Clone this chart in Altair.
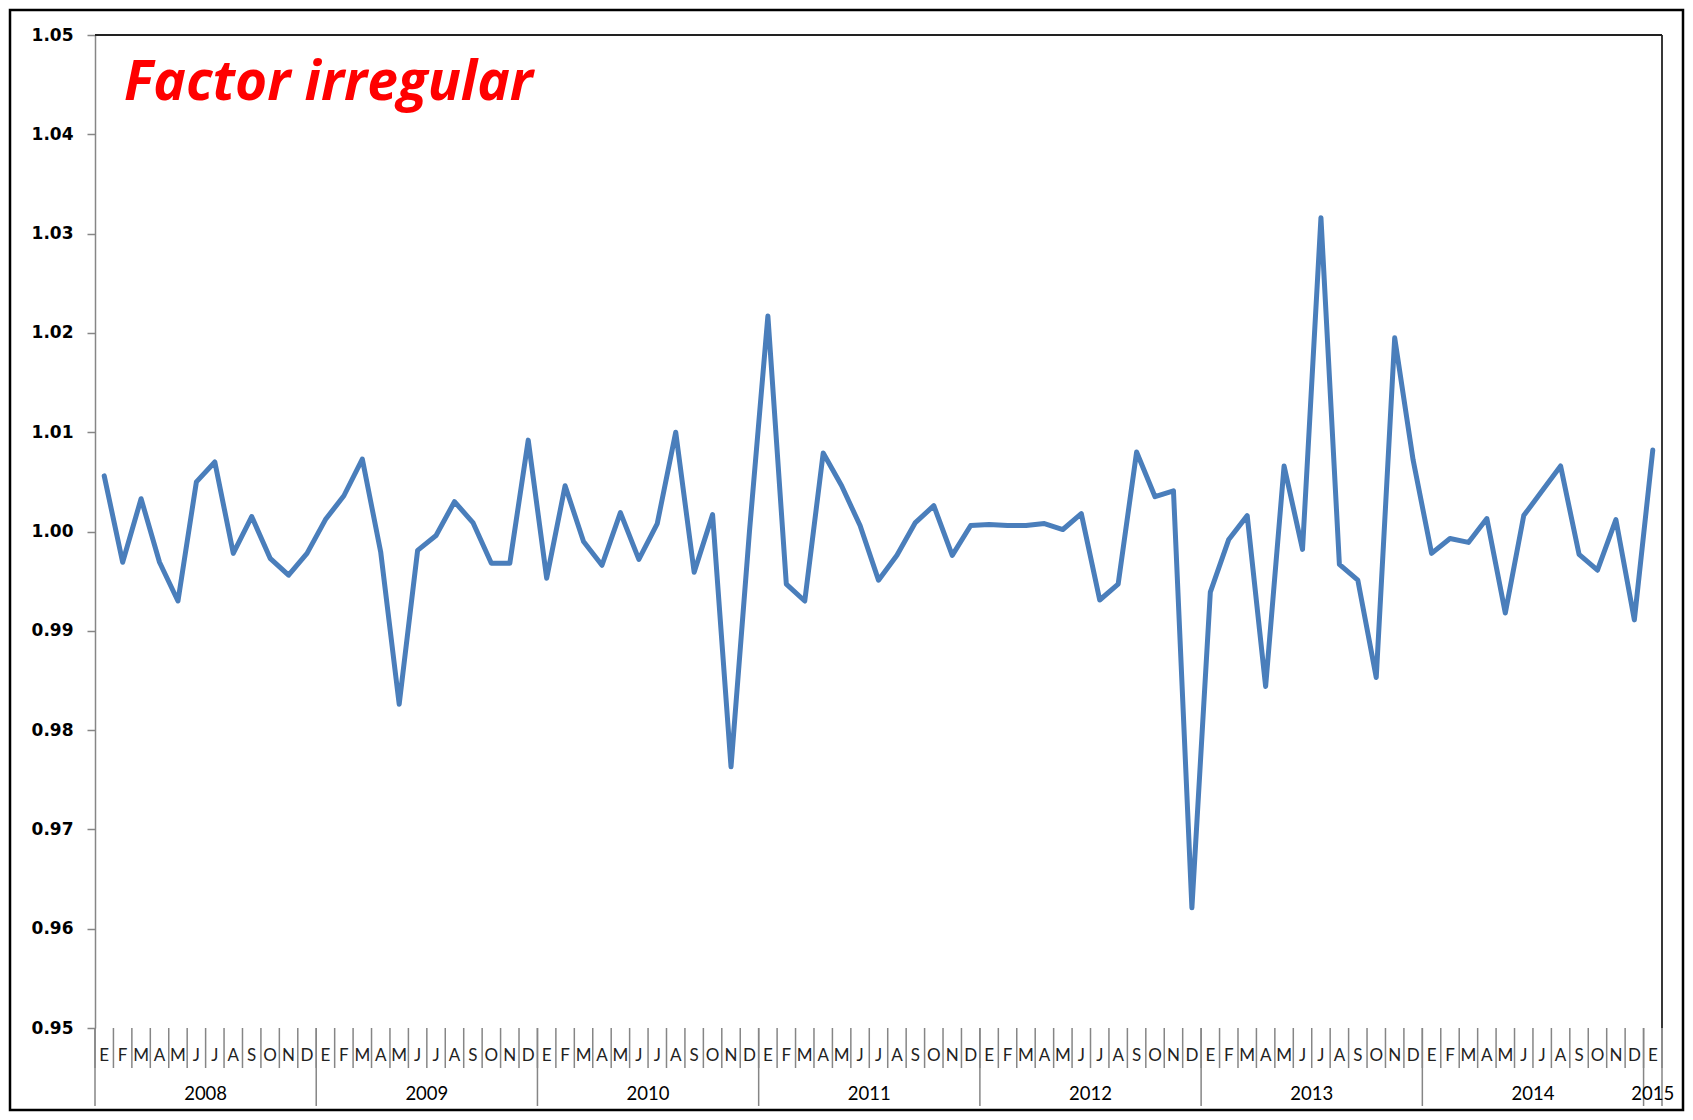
import altair as alt
import pandas as pd

# ---- data ----
month_letters = ["E", "F", "M", "A", "M", "J", "J", "A", "S", "O", "N", "D"]
years = [2008, 2009, 2010, 2011, 2012, 2013, 2014, 2015]
values_2008 = [1.0056, 0.9969, 1.0033, 0.9969, 0.9930, 1.0050, 1.0070, 0.9978, 1.0015, 0.9973, 0.9956, 0.9978]
values_2009 = [1.0012, 1.0036, 1.0073, 0.9979, 0.9826, 0.9981, 0.9996, 1.0030, 1.0009, 0.9968, 0.9968, 1.0092]
values_2010 = [0.9953, 1.0046, 0.9990, 0.9966, 1.0019, 0.9972, 1.0008, 1.0100, 0.9959, 1.0017, 0.9763, 1.0000]
values_2011 = [1.0217, 0.9947, 0.9930, 1.0079, 1.0046, 1.0006, 0.9951, 0.9976, 1.0009, 1.0026, 0.9976, 1.0006]
values_2012 = [1.0007, 1.0006, 1.0006, 1.0008, 1.0002, 1.0018, 0.9931, 0.9947, 1.0080, 1.0035, 1.0041, 0.9621]
values_2013 = [0.9939, 0.9992, 1.0016, 0.9844, 1.0066, 0.9982, 1.0316, 0.9967, 0.9951, 0.9853, 1.0195, 1.0072]
values_2014 = [0.9978, 0.9993, 0.9989, 1.0013, 0.9918, 1.0016, 1.0041, 1.0066, 0.9977, 0.9961, 1.0012, 0.9911]
values_2015 = [1.0082]
y_ticks = [0.95, 0.96, 0.97, 0.98, 0.99, 1.00, 1.01, 1.02, 1.03, 1.04, 1.05]
title_text = "Factor irregular"

series = [values_2008, values_2009, values_2010, values_2011,
          values_2012, values_2013, values_2014, values_2015]

rows = []
for yi, (yr, vals) in enumerate(zip(years, series)):
    for mi, v in enumerate(vals):
        rows.append({"idx": yi * 12 + mi, "year": yr, "m": month_letters[mi], "value": v})
df = pd.DataFrame(rows)
n = len(df)

month_bounds = pd.DataFrame({"b": [i - 0.5 for i in range(n + 1)]})
year_bounds = pd.DataFrame({"b": [yi * 12 - 0.5 for yi in range(len(years))] + [n - 0.5]})
year_labels = pd.DataFrame({
    "year": [str(y) for y in years],
    "c": [df[df.year == y].idx.mean() for y in years],
})

W, H = 1567, 993
GRAY = "#868686"

xscale = alt.Scale(domain=[-0.5, n - 0.5], nice=False, zero=False)
yscale = alt.Scale(domain=[0.95, 1.05], nice=False, zero=False)

line = alt.Chart(df).mark_line(
    color="#4a7ebb", strokeWidth=5, strokeJoin="round", strokeCap="round"
).encode(
    x=alt.X("idx:Q", scale=xscale,
            axis=alt.Axis(labels=False, ticks=False, grid=False, title=None,
                          domainColor=GRAY, domainWidth=1.5)),
    y=alt.Y("value:Q", scale=yscale,
            axis=alt.Axis(values=y_ticks, format=".2f", grid=False, title=None,
                          labelFont="DejaVu Sans", labelFontWeight="bold",
                          labelFontSize=17, labelColor="black",
                          tickColor=GRAY, tickSize=8, tickWidth=1.5,
                          domainColor=GRAY, domainWidth=1.5, labelPadding=14)),
)

month_sep = alt.Chart(month_bounds).mark_rule(color=GRAY, strokeWidth=1.5).encode(
    x=alt.X("b:Q", scale=xscale, axis=None),
    y=alt.value(H), y2=alt.value(H + 40),
)
year_sep = alt.Chart(year_bounds).mark_rule(color=GRAY, strokeWidth=1.5).encode(
    x=alt.X("b:Q", scale=xscale, axis=None),
    y=alt.value(H), y2=alt.value(H + 78),
)
month_txt = alt.Chart(df).mark_text(
    font="Lato", fontSize=17, color="#222222", baseline="middle", align="center"
).encode(
    x=alt.X("idx:Q", scale=xscale, axis=None),
    y=alt.value(H + 28),
    text="m:N",
)
year_txt = alt.Chart(year_labels).mark_text(
    font="Lato", fontSize=18.5, color="black", baseline="middle", align="center"
).encode(
    x=alt.X("c:Q", scale=xscale, axis=None),
    y=alt.value(H + 66),
    text="year:N",
)

frame_top = alt.Chart(pd.DataFrame({"a": [0]})).mark_rule(color="#222222", strokeWidth=1.8).encode(
    x=alt.value(0), x2=alt.value(W), y=alt.value(0)
)
frame_right = alt.Chart(pd.DataFrame({"a": [0]})).mark_rule(color="#222222", strokeWidth=1.8).encode(
    x=alt.value(W), y=alt.value(0), y2=alt.value(H)
)
outer = alt.Chart(pd.DataFrame({"a": [0]})).mark_rect(
    filled=False, stroke="black", strokeWidth=2.5, fillOpacity=0
).encode(
    x=alt.value(-85), x2=alt.value(W + 21), y=alt.value(-25), y2=alt.value(H + 82)
)

title = alt.Chart(pd.DataFrame({"t": [title_text]})).mark_text(
    font="Open Sans", fontSize=55, fontWeight="bold", fontStyle="italic",
    color="#ff0000", align="left", baseline="alphabetic"
).encode(
    x=alt.value(29), y=alt.value(65), text="t:N"
)

chart = alt.layer(
    month_sep, year_sep, month_txt, year_txt, frame_top, frame_right, line, title, outer
).properties(
    width=W, height=H,
    autosize=alt.AutoSizeParams(type="none"),
    padding={"left": 87, "top": 27, "right": 23, "bottom": 84},
    background="white",
).configure_view(stroke=None)

chart.save("out.html", embed_options={"renderer": "svg", "actions": False})
